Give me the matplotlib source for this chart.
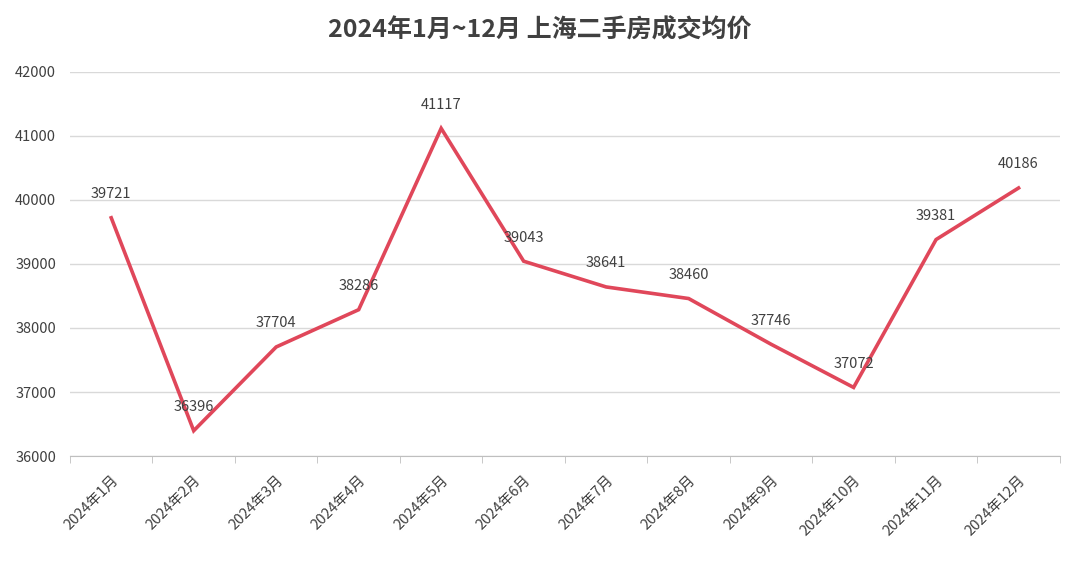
import matplotlib
matplotlib.use("Agg")
import matplotlib.pyplot as plt

months = ["2024年1月","2024年2月","2024年3月","2024年4月","2024年5月","2024年6月",
          "2024年7月","2024年8月","2024年9月","2024年10月","2024年11月","2024年12月"]
prices = [39721, 36396, 37704, 38286, 41117, 39043, 38641, 38460, 37746, 37072, 39381, 40186]
yticks = [36000, 37000, 38000, 39000, 40000, 41000, 42000]

plt.rcParams["font.family"] = "Noto Sans CJK SC"
fig = plt.figure(figsize=(10.8, 5.61), dpi=100)
ax = fig.add_axes([0.0648, 0.187, 0.9165, 0.685])
x = list(range(len(months)))
ax.plot(x, prices, color="#E0475A", lw=2.6, solid_joinstyle="miter")
for xi, v in zip(x, prices):
    ax.annotate(str(v), (xi, v), xytext=(0, 17), textcoords="offset points",
                ha="center", va="center", fontsize=10.5, color="#404040")
ax.set_xlim(-0.5, 11.5)
ax.set_ylim(36000, 42000)
ax.set_yticks(yticks)
ax.set_yticklabels([str(t) for t in yticks], fontsize=10.5, color="#404040")
ax.yaxis.grid(True, color="#D9D9D9", lw=1)
ax.set_axisbelow(True)
ax.tick_params(axis="y", length=0, pad=10)
ax.set_xticks(x)
ax.set_xticklabels(months, rotation=45, ha="right", rotation_mode="anchor",
                   fontsize=10.5, color="#404040")
ax.set_xticks([i + 0.5 for i in range(-1, 12)], minor=True)
ax.tick_params(axis="x", which="major", length=0, pad=12)
ax.tick_params(axis="x", which="minor", length=5, color="#BFBFBF")
for s in ["top", "right", "left"]:
    ax.spines[s].set_visible(False)
ax.spines["bottom"].set_color("#BFBFBF")
fig.suptitle("2024年1月~12月 上海二手房成交均价", y=0.968, fontsize=18,
             fontweight="bold", color="#404040")
fig.savefig("out.png", dpi=100, facecolor="white")
